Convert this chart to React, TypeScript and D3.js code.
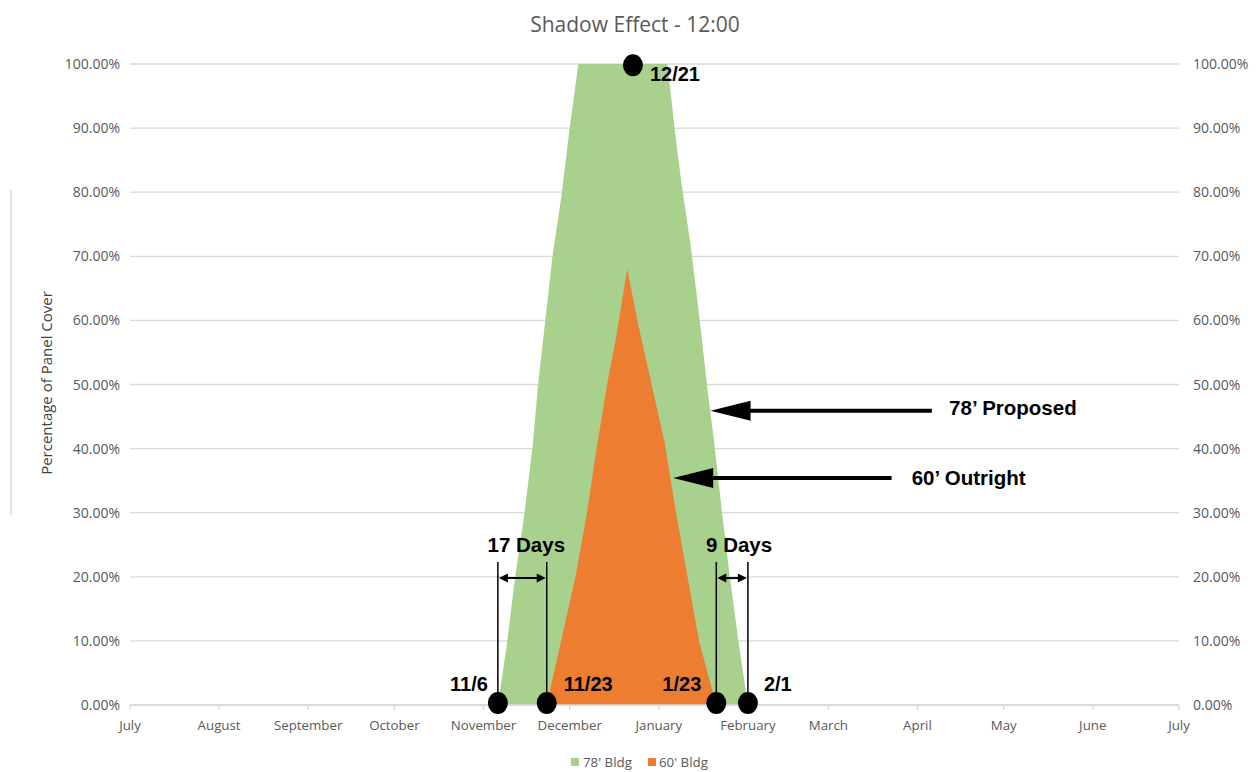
import React from 'react';
import * as d3 from 'd3';

// ---------- data ----------
const months = ['July', 'August', 'September', 'October', 'November', 'December', 'January', 'February', 'March', 'April', 'May', 'June', 'July'];
const yTickValues = [0, 0.1, 0.2, 0.3, 0.4, 0.5, 0.6, 0.7, 0.8, 0.9, 1.0];

const bldg78Dates = ['2017-11-06', '2017-11-09', '2017-11-12', '2017-11-15', '2017-11-18', '2017-11-20', '2017-11-22', '2017-11-25', '2017-11-28', '2017-12-01', '2017-12-04', '2018-01-04', '2018-01-07', '2018-01-09', '2018-01-12', '2018-01-15', '2018-01-18', '2018-01-20', '2018-01-23', '2018-01-26', '2018-01-29', '2018-02-01'];
const bldg78Values = [0, 0.09, 0.2, 0.29, 0.4, 0.5, 0.58, 0.7, 0.79, 0.9, 1.0, 1.0, 0.88, 0.81, 0.72, 0.61, 0.49, 0.42, 0.3, 0.19, 0.09, 0];

const bldg60Dates = ['2017-11-23', '2017-11-28', '2017-12-03', '2017-12-07', '2017-12-10', '2017-12-14', '2017-12-17', '2017-12-21', '2017-12-25', '2017-12-29', '2018-01-01', '2018-01-02', '2018-01-03', '2018-01-07', '2018-01-11', '2018-01-15', '2018-01-21'];
const bldg60Values = [0, 0.1, 0.2, 0.3, 0.39, 0.5, 0.57, 0.68, 0.59, 0.51, 0.45, 0.43, 0.41, 0.3, 0.2, 0.1, 0];

const seriesNames = ["78' Bldg", "60' Bldg"];
const seriesColors = ['#a9d18e', '#ed7d31'];

// annotation dots (date, value, label)
const dotDates = ['2017-11-06', '2017-11-23', '2018-01-21', '2018-02-01', '2017-12-23'];
const dotValues = [0.003, 0.003, 0.003, 0.003, 0.998];
const dateLabels = ['11/6', '11/23', '1/23', '2/1', '12/21'];

const domainStart = '2017-07-01';
const domainEnd = '2018-07-01';

// ---------- component ----------
const parse = d3.timeParse('%Y-%m-%d');

export default function App() {
  const W = 1257, H = 772;
  const left = 130, right = 1179, top = 64, bottom = 705;

  const x = d3.scaleTime().domain([parse(domainStart)!, parse(domainEnd)!]).range([left, right]);
  const y = d3.scaleLinear().domain([0, 1]).range([bottom, top]);
  const dayX = (n: number) => x(d3.timeDay.offset(parse(domainStart)!, n));

  const area = d3.area<[Date, number]>()
    .x(d => x(d[0]))
    .y0(y(0))
    .y1(d => y(d[1]));

  const s78 = bldg78Dates.map((d, i) => [parse(d)!, bldg78Values[i]] as [Date, number]);
  const s60 = bldg60Dates.map((d, i) => [parse(d)!, bldg60Values[i]] as [Date, number]);

  const monthTicks = d3.timeMonth.range(parse(domainStart)!, d3.timeDay.offset(parse(domainEnd)!, 1));

  const fmt = d3.format('.2%');
  const axisFont = "'Open Sans', 'Noto Sans', sans-serif";
  const boldFont = "'Liberation Sans', Arial, sans-serif";
  const textGray = '#595959';

  const dots = dotDates.map((d, i) => ({ cx: x(parse(d)!), cy: y(dotValues[i]) }));

  // big arrow helper (tip at left)
  const bigArrow = (tipX: number, tipY: number, endX: number) => (
    <g>
      <line x1={tipX + 38} y1={tipY} x2={endX} y2={tipY} stroke="#000" strokeWidth={4} />
      <polygon points={`${tipX},${tipY} ${tipX + 40},${tipY - 10} ${tipX + 40},${tipY + 10}`} fill="#000" />
    </g>
  );
  const dblArrow = (x1: number, x2: number, yy: number) => (
    <g>
      <line x1={x1 + 6} y1={yy} x2={x2 - 6} y2={yy} stroke="#000" strokeWidth={2} />
      <polygon points={`${x1 + 1},${yy} ${x1 + 10},${yy - 4.5} ${x1 + 10},${yy + 4.5}`} fill="#000" />
      <polygon points={`${x2 - 1},${yy} ${x2 - 10},${yy - 4.5} ${x2 - 10},${yy + 4.5}`} fill="#000" />
    </g>
  );

  const vTop = y(0.223);

  return (
    <svg width={W} height={H} style={{ position: 'absolute', left: 0, top: 0, background: '#fff' }}>
      <rect x={0} y={0} width={W} height={H} fill="#fff" />
      <line x1={11} y1={190} x2={11} y2={515} stroke="#c8c8c8" strokeWidth={1} />

      {/* title */}
      <text x={635} y={32} textAnchor="middle" fontFamily={axisFont} fontSize={21} fill={textGray}>Shadow Effect - 12:00</text>

      {/* gridlines */}
      {yTickValues.map(v => (
        <line key={v} x1={left} x2={right} y1={y(v)} y2={y(v)} stroke="#d9d9d9" strokeWidth={1.3} />
      ))}

      {/* y labels */}
      {yTickValues.map(v => (
        <g key={'l' + v}>
          <text x={120} y={y(v) + 5} textAnchor="end" fontFamily={axisFont} fontSize={14} fill={textGray}>{fmt(v)}</text>
          <text x={1193} y={y(v) + 5} textAnchor="start" fontFamily={axisFont} fontSize={14} fill={textGray}>{fmt(v)}</text>
        </g>
      ))}

      <text transform={`translate(52,383) rotate(-90)`} textAnchor="middle" fontFamily={axisFont} fontSize={15} fill="#404040">Percentage of Panel Cover</text>

      {/* areas */}
      <path d={area(s78)!} fill={seriesColors[0]} />
      <path d={area(s60)!} fill={seriesColors[1]} />

      {/* x axis */}
      <line x1={left} x2={right} y1={bottom} y2={bottom} stroke="#d9d9d9" strokeWidth={1.3} />
      {monthTicks.map((d, i) => (
        <g key={i}>
          <line x1={x(d)} x2={x(d)} y1={bottom} y2={bottom + 5} stroke="#d9d9d9" strokeWidth={1.3} />
          <text x={x(d)} y={bottom + 25} textAnchor="middle" fontFamily={axisFont} fontSize={13.3} fill={textGray}>{months[i]}</text>
        </g>
      ))}

      {/* legend */}
      <rect x={571} y={758} width={8} height={8} fill={seriesColors[0]} />
      <text x={583} y={767} fontFamily={axisFont} fontSize={13.3} fill={textGray}>{seriesNames[0]}</text>
      <rect x={648} y={758} width={8} height={8} fill={seriesColors[1]} />
      <text x={659} y={767} fontFamily={axisFont} fontSize={13.3} fill={textGray}>{seriesNames[1]}</text>

      {/* annotation vertical lines */}
      {dots.slice(0, 4).map((d, i) => (
        <line key={'v' + i} x1={d.cx} x2={d.cx} y1={vTop} y2={d.cy} stroke="#000" strokeWidth={1.5} />
      ))}
      {dblArrow(dots[0].cx, dots[1].cx, y(0.198))}
      {dblArrow(dots[2].cx, dots[3].cx, y(0.198))}
      <text x={(dots[0].cx + dots[1].cx) / 2 + 4} y={y(0.239)} textAnchor="middle" fontFamily={boldFont} fontWeight="bold" fontSize={20.5} fill="#000">17 Days</text>
      <text x={(dots[2].cx + dots[3].cx) / 2 + 7} y={y(0.239)} textAnchor="middle" fontFamily={boldFont} fontWeight="bold" fontSize={20.5} fill="#000">9 Days</text>

      {/* dots */}
      {dots.map((d, i) => (
        <ellipse key={'d' + i} cx={d.cx} cy={d.cy} rx={10} ry={11} fill="#000" />
      ))}

      {/* date labels */}
      <text x={dots[0].cx - 10} y={y(0.022)} textAnchor="end" fontFamily={boldFont} fontWeight="bold" fontSize={20} fill="#000">{dateLabels[0]}</text>
      <text x={dots[1].cx + 17} y={y(0.022)} textAnchor="start" fontFamily={boldFont} fontWeight="bold" fontSize={20} fill="#000">{dateLabels[1]}</text>
      <text x={dots[2].cx - 15} y={y(0.022)} textAnchor="end" fontFamily={boldFont} fontWeight="bold" fontSize={20} fill="#000">{dateLabels[2]}</text>
      <text x={dots[3].cx + 16} y={y(0.022)} textAnchor="start" fontFamily={boldFont} fontWeight="bold" fontSize={20} fill="#000">{dateLabels[3]}</text>
      <text x={dots[4].cx + 17} y={y(0.973)} textAnchor="start" fontFamily={boldFont} fontWeight="bold" fontSize={20} fill="#000">{dateLabels[4]}</text>

      {/* big arrows */}
      {bigArrow(dayX(202.5), y(0.459), dayX(279.4))}
      <text x={dayX(285.3)} y={y(0.452)} fontFamily={boldFont} fontWeight="bold" fontSize={20.5} fill="#000">78’ Proposed</text>
      {bigArrow(dayX(189), y(0.354), dayX(265.5))}
      <text x={dayX(272)} y={y(0.343)} fontFamily={boldFont} fontWeight="bold" fontSize={20.5} fill="#000">60’ Outright</text>
    </svg>
  );
}
